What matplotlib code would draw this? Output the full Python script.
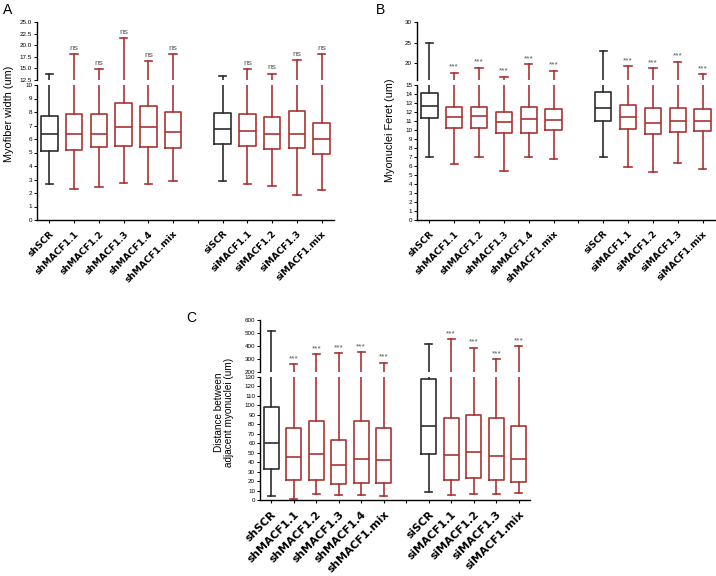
import numpy as np
import matplotlib
matplotlib.use('Agg')
import matplotlib.pyplot as plt

plt.rcParams['font.family'] = ['Liberation Sans', 'DejaVu Sans']

# x categories (empty slot separates the sh and si groups)
labels = ['shSCR', 'shMACF1.1', 'shMACF1.2', 'shMACF1.3', 'shMACF1.4', 'shMACF1.mix',
          '', 'siSCR', 'siMACF1.1', 'siMACF1.2', 'siMACF1.3', 'siMACF1.mix']
positions = [0, 1, 2, 3, 4, 5, 7, 8, 9, 10, 11]
is_control = [True, False, False, False, False, False, True, False, False, False, False]

# panel A: myofiber width (um) -> low whisker, Q1, median, Q3, high whisker
a_low = [2.67, 2.27, 2.47, 2.72, 2.64, 2.91, 2.91, 2.67, 2.54, 1.85, 2.22]
a_q1 = [5.13, 5.19, 5.38, 5.48, 5.43, 5.36, 5.60, 5.50, 5.26, 5.31, 4.86]
a_med = [6.35, 6.35, 6.40, 6.91, 6.91, 6.54, 6.72, 6.57, 6.40, 6.40, 5.98]
a_q3 = [7.70, 7.85, 7.85, 8.64, 8.47, 7.98, 7.95, 7.85, 7.65, 8.10, 7.21]
a_high = [13.7, 18.0, 14.8, 21.6, 16.6, 18.1, 13.4, 14.9, 13.9, 16.8, 18.0]
a_sig = ['', 'ns', 'ns', 'ns', 'ns', 'ns', '', 'ns', 'ns', 'ns', 'ns']

# panel B: myonuclei Feret (um)
b_low = [6.96, 6.18, 7.04, 5.41, 7.00, 6.78, 7.00, 5.85, 5.30, 6.37, 5.67]
b_q1 = [11.30, 10.22, 10.22, 9.63, 9.70, 10.00, 11.04, 10.07, 9.52, 9.74, 9.89]
b_med = [12.70, 11.48, 11.56, 10.93, 11.19, 11.07, 12.40, 11.40, 10.81, 10.96, 11.04]
b_q3 = [14.07, 12.60, 12.60, 12.00, 12.52, 12.30, 14.26, 12.82, 12.48, 12.40, 12.37]
b_high = [24.85, 17.7, 19.0, 16.75, 19.8, 18.2, 23.06, 19.35, 18.9, 20.4, 17.33]
b_sig = ['', '***', '***', '***', '***', '***', '', '***', '***', '***', '***']

# panel C: distance between adjacent myonuclei (um)
c_low = [4.2, 1.0, 6.3, 4.9, 5.3, 3.9, 8.1, 4.9, 6.0, 6.7, 7.7]
c_q1 = [32.4, 20.8, 20.8, 16.9, 18.3, 17.6, 48.6, 21.1, 23.6, 21.1, 19.4]
c_med = [60.6, 45.5, 48.3, 36.7, 43.0, 42.6, 78.2, 47.6, 50.4, 46.5, 43.0]
c_q3 = [98.0, 76.4, 83.2, 63.4, 83.8, 75.8, 128.0, 86.4, 89.5, 86.7, 78.5]
c_high = [518, 259, 338, 344, 351, 272, 413, 451, 387, 297, 400]
c_sig = ['', '***', '***', '***', '***', '***', '', '***', '***', '***', '***']

BLACK = '#2e2e2e'
RED = '#aa3333'
W, H = 716, 576


def rect(left, right, top, bottom):
    """pixel box -> figure fraction [l, b, w, h]"""
    return [left / W, 1 - bottom / H, (right - left) / W, (bottom - top) / H]


def draw_panel(fig, left, right, low_box, up_box, lims, ticks, tick_labels,
               low, q1, med, q3, high, sig, xfs):
    ax_up = fig.add_axes(rect(left, right, up_box[0], up_box[1]))
    ax_lo = fig.add_axes(rect(left, right, low_box[0], low_box[1]))

    for ax in (ax_up, ax_lo):
        for i, p in enumerate(positions):
            col = BLACK if is_control[i] else RED
            st = [dict(med=med[i], q1=q1[i], q3=q3[i], whislo=low[i], whishi=high[i], fliers=[])]
            ax.bxp(st, positions=[p], widths=0.66, capwidths=0.3, showfliers=False,
                   patch_artist=False, manage_ticks=False,
                   boxprops=dict(color=col, linewidth=1.2),
                   medianprops=dict(color=col, linewidth=1.2),
                   whiskerprops=dict(color=col, linewidth=1.2),
                   capprops=dict(color=col, linewidth=1.2))
        ax.set_xlim(-0.5, 11.5)
        for s in ('top', 'right'):
            ax.spines[s].set_visible(False)
        ax.spines['left'].set_linewidth(1.0)
        ax.tick_params(axis='y', labelsize=4.5, length=2, width=0.7, pad=1.5)

    ax_up.spines['bottom'].set_visible(False)
    ax_up.set_xticks([])
    ax_up.set_ylim(lims[1])
    ax_up.set_yticks(ticks[1])
    ax_up.set_yticklabels(tick_labels[1])
    ax_up.patch.set_alpha(0)

    ax_lo.set_ylim(lims[0])
    ax_lo.set_yticks(ticks[0])
    ax_lo.spines['bottom'].set_linewidth(1.0)
    ax_lo.set_xticks(range(12))
    ax_lo.set_xticklabels(labels, rotation=45, ha='right', rotation_mode='anchor',
                          fontsize=xfs, fontweight='bold', family='DejaVu Sans')
    ax_lo.tick_params(axis='x', length=2.5, width=0.8, pad=4)

    for i, p in enumerate(positions):
        if sig[i]:
            ax_up.annotate(sig[i], (p, high[i]), xytext=(0, 1.5), textcoords='offset points',
                           ha='center', va='bottom', fontsize=6, color='#555555')
    return ax_lo, ax_up


fig = plt.figure(figsize=(7.16, 5.76), dpi=100)

# A
draw_panel(fig, 37, 334, (85, 220), (22, 80), [(0, 10), (12.5, 25)],
           [np.arange(0, 11, 1), np.arange(12.5, 25.1, 2.5)],
           [None, ['12.5', '15.0', '17.5', '20.0', '22.5', '25.0']],
           a_low, a_q1, a_med, a_q3, a_high, a_sig, 6.6)
# B
draw_panel(fig, 417, 715, (85, 220), (22, 80), [(0, 15), (16, 30)],
           [np.arange(0, 16, 1), [20, 25, 30]],
           [None, ['20', '25', '30']],
           b_low, b_q1, b_med, b_q3, b_high, b_sig, 6.6)
# C
draw_panel(fig, 260, 530, (377, 500), (320, 372), [(0, 130), (200, 600)],
           [np.arange(0, 131, 10), np.arange(200, 601, 100)],
           [None, ['200', '300', '400', '500', '600']],
           c_low, c_q1, c_med, c_q3, c_high, c_sig, 7.8)

# axis titles and panel letters
fig.text(9 / W, 1 - 114 / H, 'Myofiber width (um)', rotation=90, ha='center', va='center', fontsize=7.8)
fig.text(390 / W, 1 - 130 / H, 'Myonuclei Feret (um)', rotation=90, ha='center', va='center', fontsize=7.8)
fig.text(224 / W, 1 - 412 / H, 'Distance between\nadjacent myonuclei (um)', rotation=90,
         ha='center', va='center', fontsize=7.2, linespacing=1.0)
fig.text(3 / W, 1 - 3 / H, 'A', ha='left', va='top', fontsize=10)
fig.text(376 / W, 1 - 3 / H, 'B', ha='left', va='top', fontsize=10)
fig.text(186 / W, 1 - 311 / H, 'C', ha='left', va='top', fontsize=10)

fig.savefig('out.png', dpi=100)
